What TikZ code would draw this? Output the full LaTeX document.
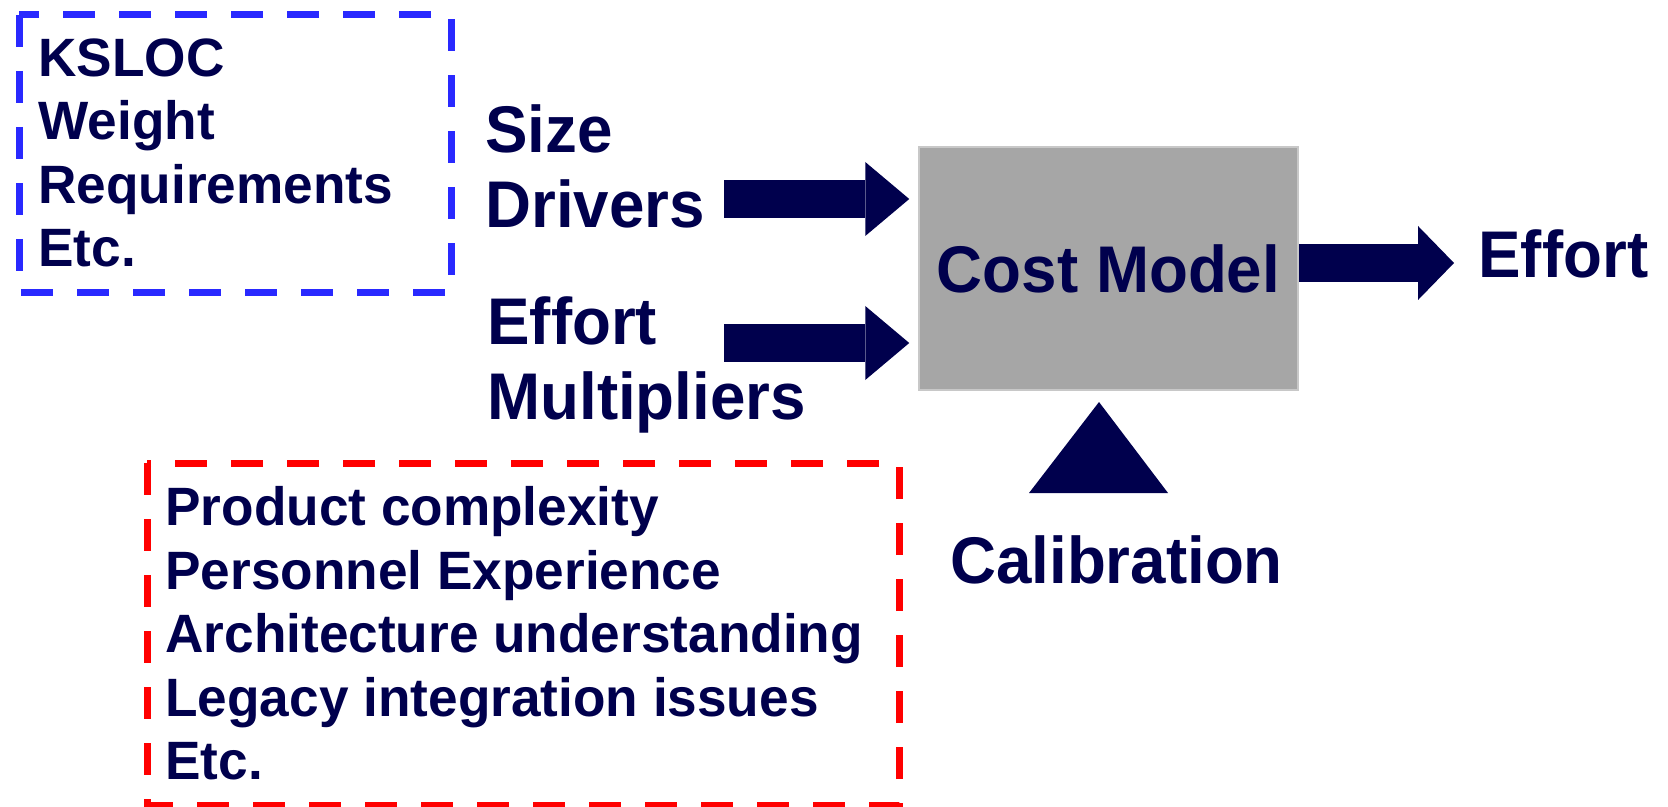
\documentclass[tikz,border=0pt]{standalone}
\usepackage{fontspec}
\setmainfont{Liberation Sans}
\usetikzlibrary{arrows.meta}
\definecolor{navy}{RGB}{0,0,77}
\definecolor{dashblue}{RGB}{41,41,255}
\definecolor{dashred}{RGB}{255,0,0}
\definecolor{modelgray}{RGB}{166,166,166}
\definecolor{modeledge}{RGB}{200,200,200}

\begin{document}
\begin{tikzpicture}[x=0.5pt,y=-0.5pt,
        list/.style={anchor=north west, inner sep=0pt, align=left, text=navy,
            font=\fontsize{27}{31.75}\selectfont\bfseries\addfontfeature{FakeStretch=0.985}},
        bigtext/.style={inner sep=0pt, text=navy,
            font=\fontsize{33}{37.5}\selectfont\bfseries\addfontfeature{FakeStretch=0.965}},
        dashbox/.style={line width=3.5pt, dash pattern=on 16pt off 12pt},
        bigarrow/.style={draw=navy, line width=19pt,
            -{Triangle[length=#1,width=37pt,line width=0pt]}},
        bigarrow/.default=22pt]
        \useasboundingbox (0,0) rectangle (1668,807);
        %% Dashed lists
        \draw [dashbox, draw=dashblue] (19,15) rectangle (451,293);
        \node [list] (sizelist) at (38,38) {KSLOC\\Weight\\Requirements\\Etc.};
        \draw [dashbox, draw=dashred] (147,463) rectangle (899,805);
        \node [list] (emlist) at (165,486) {Product complexity\\Personnel Experience\\Architecture understanding\\Legacy integration issues\\Etc.};
        %% Inputs and model
        \node [bigtext, anchor=north west, align=left] (size) at (485,104) {Size\\Drivers};
        \node [bigtext, anchor=north west, align=left] (em) at (487,296) {Effort\\Multipliers};
        \node [bigtext, draw=modeledge, line width=0.75pt, fill=modelgray,
            minimum width=189.5pt, minimum height=121.5pt] (model) at (1108.5,268.5) {Cost Model};
        \node [bigtext, anchor=base west] (effort) at (1478,277.3) {Effort};
        \node [bigtext, anchor=base] (calib) at (1116.5,583.3) {Calibration};
        \coordinate (sz) at (724,199);
        \coordinate (mu) at (724,343);
        \coordinate (out) at (1454,263);
        %% Arrows
        \draw [bigarrow, shorten >=4.5pt] (sz) -- (sz -| model.west);
        \draw [bigarrow, shorten >=4.5pt] (mu) -- (mu -| model.west);
        \draw [bigarrow=18pt] (model.east |- out) -- (out);
        \fill [navy] (1099,402) -- (1168,493) -- (1029,493) -- cycle;
    \end{tikzpicture}
\end{document}
